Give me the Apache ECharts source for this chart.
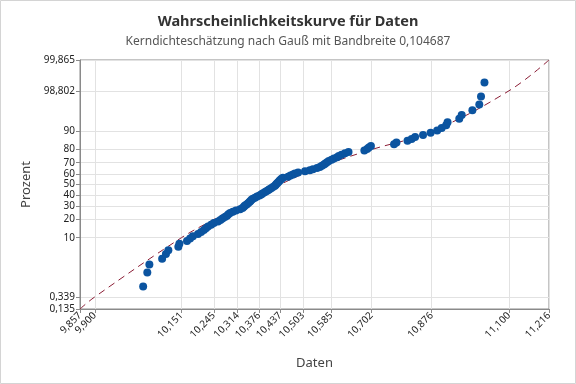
<!DOCTYPE html>
<html>
<head>
<meta charset="utf-8">
<script src="https://cdn.jsdelivr.net/npm/echarts@6/dist/echarts.min.js"></script>
<style>html,body{margin:0;padding:0;background:#fff}#c{width:576px;height:384px}</style>
</head>
<body>
<div id="c"></div>
<script>
// ---- data ----
const xTicks = [9.857, 9.900, 10.151, 10.245, 10.314, 10.376, 10.437, 10.503, 10.585, 10.702, 10.876, 11.100, 11.216];
const xTickLabels = ['9,857', '9,900', '10,151', '10,245', '10,314', '10,376', '10,437', '10,503', '10,585', '10,702', '10,876', '11,100', '11,216'];
const yTicks = [0.135, 0.339, 10, 20, 30, 40, 50, 60, 70, 80, 90, 98.802, 99.865];
const yTickLabels = ['0,135', '0,339', '10', '20', '30', '40', '50', '60', '70', '80', '90', '98,802', '99,865'];
// fitted curve (percent at the tick quantiles)
const fitX = xTicks;
const fitP = yTicks;
// data points: value and percent
const dataX = [10.040, 10.052, 10.058, 10.095, 10.106, 10.113, 10.142, 10.145, 10.167, 10.176,
  10.184, 10.199, 10.208, 10.216, 10.222, 10.228, 10.237, 10.245, 10.257, 10.264,
  10.270, 10.277, 10.283, 10.287, 10.292, 10.300, 10.309, 10.321, 10.328, 10.332,
  10.335, 10.340, 10.344, 10.348, 10.351, 10.354, 10.358, 10.364, 10.370, 10.377,
  10.382, 10.386, 10.392, 10.397, 10.402, 10.406, 10.411, 10.416, 10.421, 10.424,
  10.426, 10.429, 10.432, 10.435, 10.438, 10.441, 10.445, 10.460, 10.467, 10.474,
  10.480, 10.489, 10.509, 10.523, 10.532, 10.544, 10.552, 10.558, 10.564, 10.568,
  10.573, 10.578, 10.586, 10.593, 10.602, 10.607, 10.615, 10.625, 10.635, 10.681,
  10.689, 10.694, 10.700, 10.767, 10.774, 10.806, 10.818, 10.828, 10.851, 10.873,
  10.892, 10.905, 10.918, 10.922, 10.956, 10.963, 10.994, 11.014, 11.019, 11.029];
const dataP = [0.70, 1.69, 2.69, 3.69, 4.68, 5.68, 6.67, 7.67, 8.67, 9.66,
  10.66, 11.65, 12.65, 13.65, 14.64, 15.64, 16.63, 17.63, 18.63, 19.62,
  20.62, 21.61, 22.61, 23.61, 24.60, 25.60, 26.59, 27.59, 28.59, 29.58,
  30.58, 31.57, 32.57, 33.57, 34.56, 35.56, 36.55, 37.55, 38.55, 39.54,
  40.54, 41.53, 42.53, 43.53, 44.52, 45.52, 46.51, 47.51, 48.51, 49.50,
  50.50, 51.49, 52.49, 53.49, 54.48, 55.48, 56.47, 57.47, 58.47, 59.46,
  60.46, 61.45, 62.45, 63.45, 64.44, 65.44, 66.43, 67.43, 68.43, 69.42,
  70.42, 71.41, 72.41, 73.41, 74.40, 75.40, 76.39, 77.39, 78.39, 79.38,
  80.38, 81.37, 82.37, 83.37, 84.36, 85.36, 86.35, 87.35, 88.35, 89.34,
  90.34, 91.33, 92.33, 93.33, 94.32, 95.32, 96.31, 97.31, 98.31, 99.30];

// ---- probability (normal quantile) scale ----
function probit(pct) {
  const p = pct / 100;
  const a = [-3.969683028665376e+01, 2.209460984245205e+02, -2.759285104469687e+02, 1.383577518672690e+02, -3.066479806614716e+01, 2.506628277459239e+00];
  const b = [-5.447609879822406e+01, 1.615858368580409e+02, -1.556989798598866e+02, 6.680131188771972e+01, -1.328068155288572e+01];
  const c = [-7.784894002430293e-03, -3.223964580411365e-01, -2.400758277161838e+00, -2.549732539343734e+00, 4.374664141464968e+00, 2.938163982698783e+00];
  const d = [7.784695709041462e-03, 3.224671290700398e-01, 2.445134137142996e+00, 3.754408661907416e+00];
  const pl = 0.02425, ph = 1 - pl;
  let q, r;
  if (p < pl) {
    q = Math.sqrt(-2 * Math.log(p));
    return (((((c[0]*q+c[1])*q+c[2])*q+c[3])*q+c[4])*q+c[5]) / ((((d[0]*q+d[1])*q+d[2])*q+d[3])*q+1);
  } else if (p <= ph) {
    q = p - 0.5; r = q * q;
    return (((((a[0]*r+a[1])*r+a[2])*r+a[3])*r+a[4])*r+a[5])*q / (((((b[0]*r+b[1])*r+b[2])*r+b[3])*r+b[4])*r+1);
  } else {
    q = Math.sqrt(-2 * Math.log(1 - p));
    return -(((((c[0]*q+c[1])*q+c[2])*q+c[3])*q+c[4])*q+c[5]) / ((((d[0]*q+d[1])*q+d[2])*q+d[3])*q+1);
  }
}
const yTickZ = yTicks.map(probit);
function nearestLabel(v, vals, labels) {
  let best = 0, bd = Infinity;
  vals.forEach((t, i) => { const dd = Math.abs(t - v); if (dd < bd) { bd = dd; best = i; } });
  return labels[best];
}

const FONT = 'Noto Sans';
const chart = echarts.init(document.getElementById('c'), null, {renderer: 'canvas'});
chart.setOption({
  backgroundColor: '#ffffff',
  animation: false,
  title: [{
    text: 'Wahrscheinlichkeitskurve für Daten',
    left: 'center', top: 9,
    textStyle: {fontFamily: FONT, fontSize: 14.5, fontWeight: 'bold', color: '#333333'}
  }, {
    text: 'Kerndichteschätzung nach Gauß mit Bandbreite 0,104687',
    left: 'center', top: 31,
    textStyle: {fontFamily: FONT, fontSize: 12, fontWeight: 'normal', color: '#555555'}
  }],
  graphic: [{
    type: 'rect', shape: {x: 0.5, y: 0.5, width: 575, height: 383},
    style: {fill: 'none', stroke: '#d4d4d4', lineWidth: 1}, silent: true, z: -1
  }],
  grid: {left: 80, right: 27, top: 60, bottom: 75, show: true, borderColor: '#8a8a8a', borderWidth: 1, backgroundColor: 'transparent'},
  xAxis: {
    type: 'value', min: xTicks[0], max: xTicks[xTicks.length - 1],
    name: 'Daten', nameLocation: 'middle', nameGap: 48,
    nameTextStyle: {fontFamily: FONT, fontSize: 13, color: '#444444'},
    axisLine: {show: true, onZero: false, lineStyle: {color: '#8a8a8a'}},
    axisTick: {show: true, length: 4, lineStyle: {color: '#8a8a8a'}, customValues: xTicks},
    axisLabel: {
      customValues: xTicks, rotate: 45, fontFamily: FONT, fontSize: 10, color: '#222222', margin: 5,
      hideOverlap: false, showMinLabel: true, showMaxLabel: true,
      formatter: v => nearestLabel(v, xTicks, xTickLabels)
    },
    splitLine: {show: true, lineStyle: {color: '#e2e2e2', width: 1}}
  },
  yAxis: {
    type: 'value', min: yTickZ[0], max: yTickZ[yTickZ.length - 1],
    name: 'Prozent', nameLocation: 'middle', nameGap: 46,
    nameTextStyle: {fontFamily: FONT, fontSize: 13, color: '#444444'},
    axisLine: {show: true, onZero: false, lineStyle: {color: '#8a8a8a'}},
    axisTick: {show: true, length: 4, lineStyle: {color: '#8a8a8a'}, customValues: yTickZ},
    axisLabel: {
      customValues: yTickZ, fontFamily: FONT, fontSize: 10, color: '#222222', margin: 5,
      hideOverlap: false, showMinLabel: true, showMaxLabel: true,
      formatter: v => nearestLabel(v, yTickZ, yTickLabels)
    },
    splitLine: {show: true, lineStyle: {color: '#e2e2e2', width: 1}}
  },
  series: [{
    type: 'line', name: 'fit',
    data: fitX.map((x, i) => [x, probit(fitP[i])]),
    smooth: 0.4, showSymbol: false, symbol: 'none', silent: true, z: 3,
    lineStyle: {color: '#8b1e36', width: 1, type: [7, 5]}
  }, {
    type: 'scatter', name: 'Daten',
    data: dataX.map((x, i) => [x, probit(dataP[i])]),
    symbol: 'circle', symbolSize: 8, z: 4,
    itemStyle: {color: '#0b54a0', opacity: 1}
  }]
});
</script>
</body>
</html>
